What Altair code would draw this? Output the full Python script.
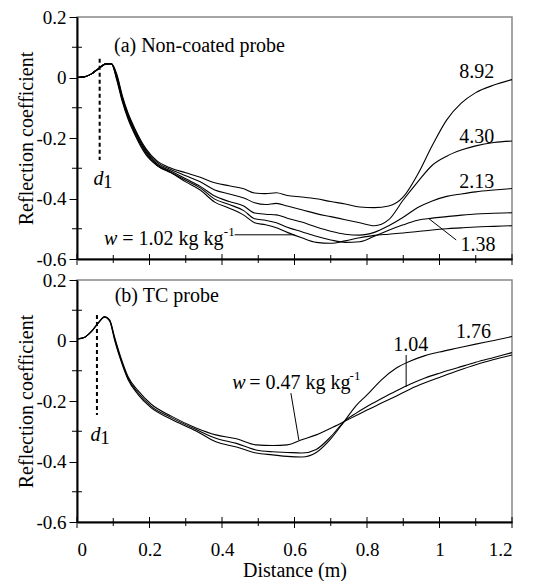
import altair as alt
import pandas as pd

FONT = "Liberation Serif, Times New Roman, serif"
W, H = 435, 242

# ---------- panel (a): non-coated probe ----------
XA = [0, 0.02, 0.04, 0.06, 0.08, 0.095, 0.11, 0.125, 0.14, 0.16, 0.19, 0.22, 0.26, 0.30,
      0.34, 0.38, 0.42, 0.46, 0.49, 0.52, 0.55, 0.58, 0.62, 0.66, 0.70, 0.74, 0.78, 0.82,
      0.86, 0.90, 0.94, 0.98, 1.02, 1.06, 1.10, 1.15, 1.20]
A_892 = [0, .002, .012, .03, .045, .046, .01, -.06, -.115, -.17, -.235, -.275, -.30, -.315,
         -.33, -.348, -.358, -.368, -.382, -.384, -.381, -.39, -.395, -.401, -.41, -.418, -.428, -.43,
         -.425, -.395, -.32, -.225, -.14, -.085, -.05, -.025, -.007]
A_430 = [0, .002, .012, .03, .045, .045, .005, -.065, -.12, -.175, -.24, -.28, -.305, -.325,
         -.345, -.372, -.385, -.398, -.414, -.42, -.416, -.425, -.437, -.45, -.46, -.47, -.48, -.49,
         -.47, -.405, -.345, -.29, -.26, -.24, -.226, -.215, -.21]
A_213 = [0, .002, .012, .03, .045, .045, 0, -.07, -.125, -.18, -.245, -.285, -.31, -.335,
         -.36, -.392, -.41, -.425, -.448, -.452, -.454, -.465, -.478, -.494, -.508, -.518, -.521, -.512,
         -.49, -.462, -.43, -.408, -.393, -.385, -.378, -.372, -.367]
A_138 = [0, .002, .012, .03, .045, .045, -.005, -.075, -.13, -.185, -.25, -.29, -.315, -.34,
         -.365, -.402, -.42, -.44, -.467, -.472, -.48, -.495, -.51, -.525, -.537, -.545, -.543, -.525,
         -.505, -.487, -.472, -.465, -.46, -.455, -.451, -.449, -.447]
A_102 = [0, .002, .012, .03, .045, .045, -.01, -.08, -.135, -.19, -.255, -.29, -.315, -.345,
         -.372, -.412, -.432, -.455, -.48, -.487, -.497, -.512, -.53, -.545, -.548, -.54, -.53, -.522,
         -.518, -.514, -.509, -.504, -.5, -.497, -.494, -.492, -.49]

# ---------- panel (b): TC probe ----------
XB = [0, 0.02, 0.04, 0.06, 0.076, 0.09, 0.104, 0.122, 0.141, 0.168, 0.204, 0.26, 0.33, 0.383,
      0.44, 0.494, 0.54, 0.58, 0.62, 0.66, 0.70, 0.737, 0.77, 0.80, 0.84, 0.88, 0.92, 0.96,
      1.0, 1.05, 1.1, 1.15, 1.2]
B_047 = [.005, .01, .03, .06, .079, .068, .01, -.06, -.12, -.165, -.21, -.25, -.29, -.312,
         -.325, -.345, -.347, -.345, -.328, -.312, -.29, -.268, -.248, -.23, -.207, -.184, -.16, -.14,
         -.122, -.1, -.08, -.063, -.048]
B_104 = [.005, .01, .03, .06, .078, .066, .005, -.065, -.125, -.172, -.217, -.255, -.295, -.323,
         -.34, -.362, -.368, -.37, -.372, -.36, -.318, -.268, -.24, -.218, -.192, -.167, -.144, -.124,
         -.108, -.09, -.072, -.056, -.04]
B_176 = [.005, .01, .03, .06, .077, .065, 0, -.07, -.13, -.178, -.222, -.26, -.3, -.335,
         -.352, -.372, -.378, -.383, -.385, -.37, -.325, -.268, -.215, -.18, -.13, -.092, -.068, -.05,
         -.038, -.025, -.012, 0, .013]

# ticks
X_MAJOR = [0, 0.2, 0.4, 0.6, 0.8, 1.0, 1.2]
X_MINOR = [0.1, 0.3, 0.5, 0.7, 0.9, 1.1]
Y_MAJOR = [-0.6, -0.4, -0.2, 0, 0.2]
Y_MINOR = [-0.5, -0.3, -0.1, 0.1]

# annotations (data units)
A_LABELS = [("8.92", 1.103, 0.018), ("4.30", 1.103, -0.197), ("2.13", 1.103, -0.345), ("1.38", 1.106, -0.553)]
B_LABELS = [("1.04", 0.921, -0.015), ("1.76", 1.094, 0.029)]
A_LEADERS = [(0.435, -0.52, 0.60, -0.52), (0.971, -0.467, 1.046, -0.537)]
B_LEADERS = [(0.59, -0.174, 0.612, -0.329), (0.908, -0.048, 0.908, -0.153)]


def series_df(xs, named):
    rows = []
    for name, ys in named:
        for x, y in zip(xs, ys):
            rows.append({"x": x, "y": y, "w": name})
    return pd.DataFrame(rows)


def panel(df, title, title_xy, labels, leaders, dash, d_xy, w_text, w_xy, bottom):
    xscale = alt.Scale(domain=[0, 1.2], nice=False, zero=False)
    yscale = alt.Scale(domain=[-0.6, 0.2], nice=False, zero=False)
    if bottom:
        xaxis = alt.Axis(values=X_MAJOR, labelExpr="'' + datum.value", ticks=False,
                         domainWidth=2, labelPadding=18, title="Distance (m)", titlePadding=1)
    else:
        xaxis = alt.Axis(labels=False, ticks=False, domainWidth=2, title=None)
    yaxis = alt.Axis(values=Y_MAJOR, labelExpr="datum.value == 0 ? '0' : '' + datum.value",
                     tickSize=8, domainWidth=2, labelPadding=3, title="Reflection coefficient",
                     titlePadding=-1)
    X = alt.X("x:Q", scale=xscale, axis=xaxis)
    Y = alt.Y("y:Q", scale=yscale, axis=yaxis)

    lines = alt.Chart(df).mark_line(color="black", strokeWidth=1.1, interpolate="monotone").encode(
        x=X, y=Y, detail="w:N")

    dashdf = pd.DataFrame([{"x": dash[0], "y": dash[1], "y2": dash[2]}])
    dashed = alt.Chart(dashdf).mark_rule(color="black", strokeWidth=2, strokeDash=[4, 3]).encode(
        x="x:Q", y="y:Q", y2="y2:Q")

    ldf = pd.DataFrame([{"x": a, "y": b, "x2": c, "y2": d} for a, b, c, d in leaders])
    lead = alt.Chart(ldf).mark_rule(color="black", strokeWidth=1).encode(
        x="x:Q", y="y:Q", x2="x2:Q", y2="y2:Q")

    tdf = pd.DataFrame([{"t": t, "x": x, "y": y} for t, x, y in labels])
    txt = alt.Chart(tdf).mark_text(font=FONT, fontSize=20, color="black").encode(
        x="x:Q", y="y:Q", text="t:N")

    ttl = alt.Chart(pd.DataFrame([{"t": title, "x": title_xy[0], "y": title_xy[1]}])).mark_text(
        font=FONT, fontSize=20, color="black", align="left").encode(x="x:Q", y="y:Q", text="t:N")

    ddf = pd.DataFrame([{"t": "d", "x": d_xy[0], "y": d_xy[1]}])
    d_it = alt.Chart(ddf).mark_text(font=FONT, fontSize=20, fontStyle="italic", color="black").encode(
        x="x:Q", y="y:Q", text="t:N")
    d1df = pd.DataFrame([{"t": "1", "x": d_xy[2], "y": d_xy[3]}])
    d_one = alt.Chart(d1df).mark_text(font=FONT, fontSize=19, color="black").encode(
        x="x:Q", y="y:Q", text="t:N")

    wdf = pd.DataFrame([{"t": "w", "x": w_xy[0], "y": w_xy[1]}])
    w_it = alt.Chart(wdf).mark_text(font=FONT, fontSize=20, fontStyle="italic", color="black",
                                    align="left").encode(x="x:Q", y="y:Q", text="t:N")
    wrdf = pd.DataFrame([{"t": w_text, "x": w_xy[2], "y": w_xy[1]}])
    w_rest = alt.Chart(wrdf).mark_text(font=FONT, fontSize=20, color="black", align="left").encode(
        x="x:Q", y="y:Q", text="t:N")
    wsdf = pd.DataFrame([{"t": "-1", "x": w_xy[3], "y": w_xy[4]}])
    w_sup = alt.Chart(wsdf).mark_text(font=FONT, fontSize=13, color="black", align="left").encode(
        x="x:Q", y="y:Q", text="t:N")

    xmaj = alt.Chart(pd.DataFrame({"x": X_MAJOR})).mark_rule(color="black", strokeWidth=1).encode(
        x="x:Q", y=alt.value(H - 5), y2=alt.value(H + 6))
    xmin = alt.Chart(pd.DataFrame({"x": X_MINOR})).mark_rule(color="black", strokeWidth=1).encode(
        x="x:Q", y=alt.value(H - 4), y2=alt.value(H + 4))
    ymin = alt.Chart(pd.DataFrame({"y": Y_MINOR})).mark_rule(color="black", strokeWidth=1).encode(
        y="y:Q", x=alt.value(-5), x2=alt.value(5))

    return alt.layer(lines, dashed, lead, txt, ttl, d_it, d_one, w_it, w_rest, w_sup,
                     xmaj, xmin, ymin).properties(width=W, height=H)


dfa = series_df(XA, [("8.92", A_892), ("4.30", A_430), ("2.13", A_213), ("1.38", A_138), ("1.02", A_102)])
dfb = series_df(XB, [("0.47", B_047), ("1.04", B_104), ("1.76", B_176)])

top = panel(dfa, "(a) Non-coated probe", (0.102, 0.104), A_LABELS, A_LEADERS,
            (0.0625, 0.062, -0.273), (0.059, -0.334, 0.085, -0.345),
            "= 1.02 kg kg", (0.0745, -0.533, 0.125, 0.405, -0.51), False)
bot = panel(dfb, "(b) TC probe", (0.104, 0.147), B_LABELS, B_LEADERS,
            (0.055, 0.084, -0.246), (0.051, -0.311, 0.077, -0.322),
            "= 0.47 kg kg", (0.428, -0.14, 0.475, 0.752, -0.117), True)

chart = alt.vconcat(top, bot, spacing=0).properties(
    padding={"top": -1, "left": 8, "right": 5, "bottom": 0}
).configure_view(stroke="#888888", strokeWidth=1.5).configure_axis(
    labelFont=FONT, titleFont=FONT, labelFontSize=19, titleFontSize=20, titleFontWeight="normal",
    labelColor="black", titleColor="black", domainColor="black", tickColor="black", grid=False
)

chart.save("out.html", embed_options={"renderer": "svg", "actions": False})
